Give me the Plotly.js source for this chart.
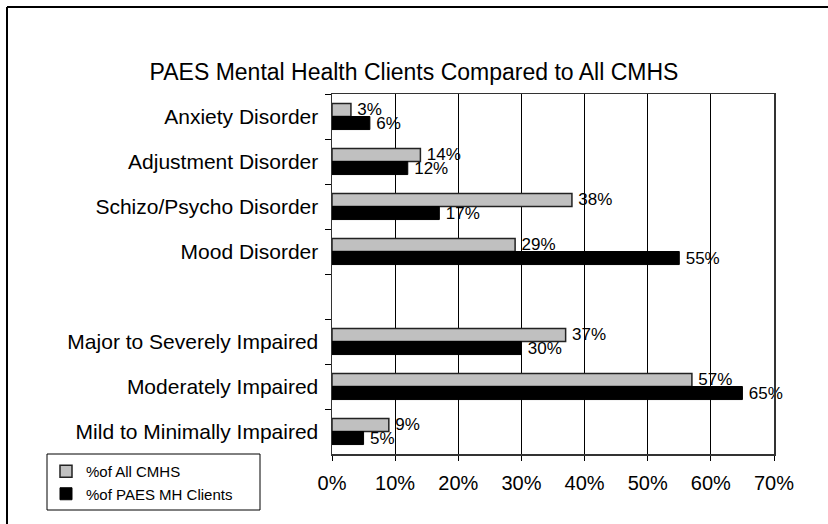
<!DOCTYPE html>
<html>
<head>
<meta charset="utf-8">
<script src="https://cdn.plot.ly/plotly-3.0.1.min.js"></script>
<style>
  html, body { margin: 0; padding: 0; background: #ffffff; overflow: hidden; }
  #chart { width: 828px; height: 524px; }
</style>
</head>
<body>
<div id="chart"></div>
<script>
const categories = [
  "Anxiety Disorder",
  "Adjustment Disorder",
  "Schizo/Psycho Disorder",
  "Mood Disorder",
  " ",
  "Major to Severely Impaired",
  "Moderately Impaired",
  "Mild to Minimally Impaired"
];
const allCMHS = [3, 14, 38, 29, null, 37, 57, 9];
const paesMH = [6, 12, 17, 55, null, 30, 65, 5];
const seriesNames = ["%of All CMHS", "%of PAES MH Clients"];
const xTicks = [0, 10, 20, 30, 40, 50, 60, 70];
const xTickText = xTicks.map(v => v + "%");

const FONT = "Arial, 'Liberation Sans', sans-serif";

function barTrace(name, values, fill, edge, edgeWidth) {
  return {
    type: "bar", orientation: "h",
    name: name,
    y: categories, x: values,
    marker: { color: fill, line: { color: edge, width: edgeWidth } },
    text: values.map(v => (v === null ? "" : "\u2009" + v + "%")),
    texttemplate: "%{text}",
    textposition: "outside",
    textfont: { family: FONT, size: 17, color: "#000" },
    constraintext: "none", cliponaxis: false, hoverinfo: "x+y"
  };
}

const traces = [
  barTrace(seriesNames[0], allCMHS, "#c0c0c0", "#222222", 1.5),
  barTrace(seriesNames[1], paesMH, "#000000", "#000000", 1)
];

const L = 332, R = 54, T = 94, B = 70, W = 828, H = 524;
const pw = W - L - R, ph = H - T - B;
const px = v => (v - L) / pw;
const py = v => 1 - (v - T) / ph;

const layout = {
  width: W, height: H,
  margin: { l: L, r: R, t: T, b: B, pad: 0 },
  paper_bgcolor: "#ffffff", plot_bgcolor: "#ffffff",
  font: { family: FONT, color: "#000" },
  title: {
    text: "PAES Mental Health Clients Compared to All CMHS",
    font: { family: FONT, size: 23, color: "#000" },
    x: 414 / W, xref: "container", xanchor: "center",
    y: 1 - 72 / H, yref: "container", yanchor: "middle"
  },
  barmode: "group", bargap: 0.42, bargroupgap: 0,
  xaxis: {
    range: [0, 70], tickmode: "array", tickvals: xTicks, ticktext: xTickText,
    showgrid: true, gridcolor: "#000", gridwidth: 1,
    ticks: "outside", ticklen: 5, tickcolor: "#000",
    showline: true, linecolor: "#333", linewidth: 1.5, mirror: true,
    tickfont: { family: FONT, size: 20, color: "#000" },
    ticklabelstandoff: 5, zeroline: false, fixedrange: true
  },
  yaxis: {
    type: "category", autorange: "reversed",
    categoryorder: "array", categoryarray: categories,
    ticks: "outside", ticklen: 6, tickcolor: "#000", tickson: "boundaries",
    showline: true, linecolor: "#333", linewidth: 1.5, mirror: true,
    showgrid: false,
    tickfont: { family: FONT, size: 21, color: "#000" },
    ticklabelstandoff: 8, fixedrange: true
  },
  showlegend: true,
  legend: {
    x: px(46), y: py(455), xanchor: "left", yanchor: "top",
    bgcolor: "rgba(0,0,0,0)", borderwidth: 0,
    font: { family: FONT, size: 15, color: "#000" },
    traceorder: "normal", itemwidth: 30, tracegroupgap: 0
  },
  shapes: [
    { type: "line", xref: "paper", yref: "paper",
      x0: px(7), x1: px(828), y0: py(7), y1: py(7),
      line: { color: "#000", width: 2 }, layer: "above" },
    { type: "line", xref: "paper", yref: "paper",
      x0: px(7), x1: px(7), y0: py(7), y1: py(524),
      line: { color: "#000", width: 2 }, layer: "above" },
    { type: "rect", xref: "paper", yref: "paper",
      x0: px(47), x1: px(260), y0: py(454), y1: py(510),
      line: { color: "#000", width: 1 }, fillcolor: "rgba(0,0,0,0)", layer: "above" }
  ]
};

Plotly.newPlot("chart", traces, layout, { staticPlot: true, displayModeBar: false });
</script>
</body>
</html>
